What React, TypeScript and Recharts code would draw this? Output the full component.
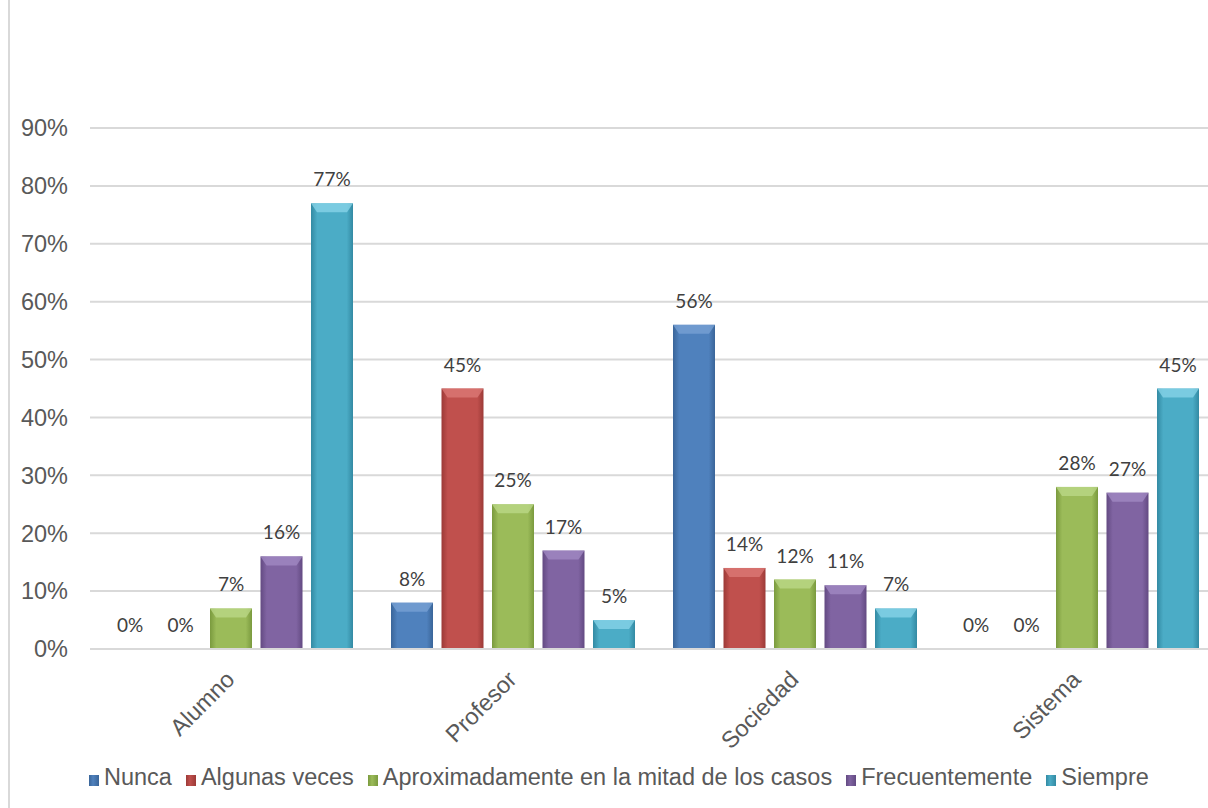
import { BarChart, Bar, XAxis, YAxis, CartesianGrid, Legend, LabelList } from "recharts";

const categories = ["Alumno", "Profesor", "Sociedad", "Sistema"];

const nunca = [0, 8, 56, 0];
const algunasVeces = [0, 45, 14, 0];
const mitad = [7, 25, 12, 28];
const frecuentemente = [16, 17, 11, 27];
const siempre = [77, 5, 7, 45];

const yTicks = [0, 10, 20, 30, 40, 50, 60, 70, 80, 90];

const series = [
  { key: "nunca", name: "Nunca", color: "#4F81BD", dark: "#3A6599", light: "#7AA3D6", values: nunca },
  { key: "algunas", name: "Algunas veces", color: "#C0504D", dark: "#9C3A37", light: "#DE7B78", values: algunasVeces },
  { key: "mitad", name: "Aproximadamente en la mitad de los casos", color: "#9BBB59", dark: "#7A9A3E", light: "#BCD98A", values: mitad },
  { key: "frec", name: "Frecuentemente", color: "#8064A2", dark: "#634A82", light: "#A38BC4", values: frecuentemente },
  { key: "siempre", name: "Siempre", color: "#4BACC6", dark: "#338AA3", light: "#8AD6EA", values: siempre },
];

const data = categories.map((cat, i) => {
  const row: Record<string, string | number> = { cat };
  series.forEach((s) => {
    row[s.key] = s.values[i];
  });
  return row;
});

const axisFont = "'Liberation Sans', Arial, sans-serif";
const labelFont = "Lato, 'Open Sans', sans-serif";
const textSize = 23.5;

// bevelled bar like the old Excel 3D style
function BevelBar(props: any) {
  const { x, y, width, height, seriesKey, light } = props;
  if (!height || height <= 0) return null;
  const cap = Math.min(9, height);
  return (
    <g>
      <rect x={x} y={y} width={width} height={height} fill={`url(#grad-${seriesKey})`} />
      <path
        d={`M${x},${y} L${x + width},${y} L${x + width - 6},${y + cap} L${x + 6},${y + cap} Z`}
        fill={light}
        opacity={0.75}
      />
    </g>
  );
}

function CategoryTick(props: any) {
  const { x, y, payload } = props;
  return (
    <text
      transform={`translate(${x + 5},${y + 24}) rotate(-45)`}
      textAnchor="end"
      fontFamily={axisFont}
      fontSize={textSize}
      fill="#595959"
    >
      {payload.value}
    </text>
  );
}

function LegendContent() {
  return (
    <div
      style={{
        display: "flex",
        justifyContent: "flex-start",
        alignItems: "flex-start",
        paddingLeft: 89,
        marginTop: -3,
        fontFamily: axisFont,
        fontSize: textSize,
        lineHeight: "24px",
        color: "#595959",
        whiteSpace: "nowrap",
      }}
    >
      {series.map((s) => (
        <span key={s.key} style={{ display: "flex", alignItems: "flex-end", marginRight: 14 }}>
          <span
            style={{
              display: "inline-block",
              width: 10,
              height: 11,
              marginRight: 5,
              marginBottom: 3,
              background: `linear-gradient(to right, ${s.dark}, ${s.color} 40%, ${s.dark})`,
            }}
          />
          {s.name}
        </span>
      ))}
    </div>
  );
}

export default function App() {
  return (
    <div style={{ position: "absolute", left: 0, top: 0, width: 1208, height: 808, overflow: "hidden", background: "#fff" }}>
      <div style={{ position: "absolute", left: 8, top: 0, width: 2, height: 808, background: "#d9d9d9" }} />
      <BarChart
        width={1220}
        height={808}
        data={data}
        margin={{ top: 128, right: 2, left: 0, bottom: 0 }}
        barCategoryGap={19}
        barGap={8.5}
      >
        <defs>
          {series.map((s) => (
            <linearGradient key={s.key} id={`grad-${s.key}`} x1="0" y1="0" x2="1" y2="0">
              <stop offset="0%" stopColor={s.dark} />
              <stop offset="15%" stopColor={s.color} />
              <stop offset="50%" stopColor={s.color} />
              <stop offset="85%" stopColor={s.color} />
              <stop offset="100%" stopColor={s.dark} />
            </linearGradient>
          ))}
        </defs>
        <CartesianGrid vertical={false} stroke="#d9d9d9" strokeWidth={2} />
        <XAxis
          dataKey="cat"
          height={119}
          axisLine={{ stroke: "#d9d9d9", strokeWidth: 2 }}
          tickLine={false}
          tick={<CategoryTick />}
          interval={0}
        />
        <YAxis
          width={90}
          domain={[0, 90]}
          ticks={yTicks}
          axisLine={false}
          tickLine={false}
          tickSize={0}
          tickMargin={22}
          tickFormatter={(v: number) => `${v}%`}
          tick={{ fontFamily: axisFont, fontSize: textSize, fill: "#595959" }}
        />
        <Legend verticalAlign="bottom" height={40} content={<LegendContent />} />
        {series.map((s) => (
          <Bar
            key={s.key}
            dataKey={s.key}
            name={s.name}
            fill={s.color}
            isAnimationActive={false}
            shape={(p: any) => <BevelBar {...p} seriesKey={s.key} light={s.light} />}
          >
            <LabelList
              dataKey={s.key}
              position="top"
              offset={17}
              formatter={(v: any) => `${v}%`}
              style={{ fontFamily: labelFont, fontSize: 19, fill: "#404040" }}
            />
          </Bar>
        ))}
      </BarChart>
    </div>
  );
}
